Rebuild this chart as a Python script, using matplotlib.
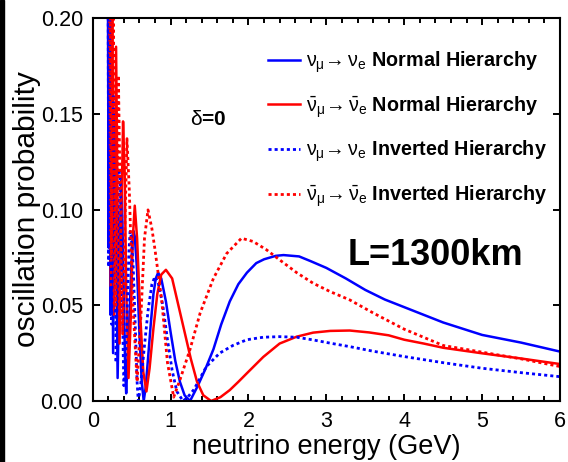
import matplotlib
matplotlib.use("Agg")
import matplotlib.pyplot as plt
from matplotlib.lines import Line2D
from matplotlib.patches import Rectangle

plt.rcParams['font.family'] = ['Liberation Sans', 'DejaVu Sans']
plt.rcParams['mathtext.fontset'] = 'custom'
plt.rcParams['mathtext.rm'] = 'Liberation Sans'
plt.rcParams['mathtext.it'] = 'Liberation Sans'
plt.rcParams['mathtext.bf'] = 'Liberation Sans:bold'

# values (energy in GeV, probability)
nh_nu_E = [0.195, 0.205, 0.215, 0.228, 0.243, 0.262, 0.285, 0.32, 0.342, 0.365,
           0.375, 0.397, 0.418, 0.43, 0.443, 0.475, 0.505, 0.52, 0.54, 0.57,
           0.60, 0.63, 0.655, 0.68, 0.71, 0.745, 0.78, 0.81, 0.84, 0.88,
           0.94, 1.00, 1.06, 1.12, 1.18, 1.25, 1.35, 1.45, 1.55, 1.65,
           1.76, 1.87, 1.98, 2.10, 2.20, 2.35, 2.45, 2.65, 2.80, 3.00,
           3.25, 3.50, 3.75, 4.00, 4.50, 5.00, 5.50, 6.00]
nh_nu_P = [0.22, 0.08, 0.23, 0.045, 0.19, 0.025, 0.15, 0.012, 0.063, 0.115,
           0.108, 0.06, 0.015, 0.004, 0.017, 0.047, 0.080, 0.089, 0.086, 0.068,
           0.035, 0.010, 0.0, 0.007, 0.022, 0.040, 0.056, 0.064, 0.067, 0.064,
           0.052, 0.036, 0.021, 0.010, 0.003, 0.0, 0.008, 0.017, 0.027, 0.040,
           0.052, 0.061, 0.067, 0.072, 0.074, 0.0758, 0.0762, 0.0755, 0.073, 0.0695,
           0.064, 0.058, 0.053, 0.049, 0.041, 0.0345, 0.0305, 0.0258]

nh_nubar_E = [0.215, 0.232, 0.25, 0.275, 0.30, 0.32, 0.345, 0.365, 0.39, 0.41,
              0.43, 0.46, 0.49, 0.515, 0.54, 0.57, 0.61, 0.65, 0.69, 0.73,
              0.78, 0.83, 0.88, 0.94, 1.02, 1.10, 1.18, 1.26, 1.34, 1.42,
              1.52, 1.64, 1.76, 1.87, 1.98, 2.19, 2.40, 2.62, 2.83, 3.05,
              3.30, 3.55, 3.80, 4.00, 4.25, 4.50, 5.00, 5.50, 6.00]
nh_nubar_P = [0.22, 0.06, 0.22, 0.045, 0.185, 0.10, 0.03, 0.09, 0.146, 0.12,
              0.06, 0.012, 0.045, 0.085, 0.102, 0.085, 0.045, 0.015, 0.005, 0.017,
              0.038, 0.056, 0.066, 0.0685, 0.064, 0.050, 0.036, 0.022, 0.010, 0.003,
              0.0, 0.002, 0.0057, 0.010, 0.0145, 0.023, 0.030, 0.0336, 0.0357, 0.0366,
              0.0368, 0.0358, 0.0343, 0.032, 0.030, 0.0278, 0.0249, 0.0222, 0.0193]

ih_nu_E = [0.198, 0.205, 0.222, 0.245, 0.265, 0.30, 0.32, 0.34, 0.355, 0.375,
           0.39, 0.40, 0.42, 0.445, 0.465, 0.48, 0.495, 0.52, 0.55, 0.57,
           0.585, 0.61, 0.66, 0.71, 0.76, 0.80, 0.84, 0.90, 0.96, 1.02,
           1.08, 1.16, 1.22, 1.30, 1.38, 1.46, 1.63, 1.80, 1.98, 2.19,
           2.40, 2.62, 2.83, 3.05, 3.30, 3.60, 4.00, 4.50, 5.00, 5.50, 6.00]
ih_nu_P = [0.22, 0.07, 0.21, 0.04, 0.16, 0.02, 0.07, 0.12, 0.115, 0.07,
           0.03, 0.008, 0.018, 0.05, 0.078, 0.0885, 0.086, 0.07, 0.035, 0.01,
           0.0, 0.006, 0.027, 0.047, 0.061, 0.065, 0.062, 0.05, 0.032, 0.016,
           0.005, 0.0, 0.002, 0.006, 0.012, 0.018, 0.025, 0.029, 0.032, 0.0333,
           0.0336, 0.0333, 0.0319, 0.0302, 0.0284, 0.026, 0.0232, 0.020, 0.0171, 0.0148, 0.0127]

ih_nubar_E = [0.225, 0.24, 0.262, 0.295, 0.33, 0.36, 0.385, 0.41, 0.44, 0.47,
              0.51, 0.57, 0.62, 0.665, 0.71, 0.76, 0.80, 0.885, 0.96, 1.04,
              1.12, 1.25, 1.38, 1.55, 1.72, 1.91, 2.06, 2.23, 2.40, 2.62,
              2.83, 3.05, 3.30, 3.60, 4.00, 4.50, 5.00, 5.50, 6.00]
ih_nubar_P = [0.22, 0.075, 0.22, 0.05, 0.17, 0.085, 0.035, 0.085, 0.137, 0.11,
              0.055, 0.01, 0.045, 0.085, 0.0998, 0.090, 0.079, 0.053, 0.020, 0.002,
              0.011, 0.027, 0.046, 0.064, 0.077, 0.085, 0.0833, 0.079, 0.0737, 0.067,
              0.0615, 0.0571, 0.0528, 0.046, 0.0375, 0.029, 0.0255, 0.022, 0.018]

labels = [r'$\nu_\mu\!\rightarrow\nu_e$ Normal Hierarchy',
          r'$\bar{\nu}_\mu\!\rightarrow\bar{\nu}_e$ Normal Hierarchy',
          r'$\nu_\mu\!\rightarrow\nu_e$ Inverted Hierarchy',
          r'$\bar{\nu}_\mu\!\rightarrow\bar{\nu}_e$ Inverted Hierarchy']

blue = '#0000ff'
red = '#ff0000'
dots = (0, (1.1, 1.1))

fig = plt.figure(figsize=(5.68, 4.62), dpi=100)
ax = fig.add_axes([92.7 / 568, 1 - 401 / 462, 467.3 / 568, 383 / 462])

ax.plot(nh_nu_E, nh_nu_P, color=blue, lw=1.8)
ax.plot(nh_nubar_E, nh_nubar_P, color=red, lw=1.8)
ax.plot(ih_nu_E, ih_nu_P, color=blue, lw=2.0, linestyle=dots)
ax.plot(ih_nubar_E, ih_nubar_P, color=red, lw=2.0, linestyle=dots)

ax.set_xlim(0, 6)
ax.set_ylim(0, 0.2)
ax.set_xticks([0, 1, 2, 3, 4, 5, 6])
ax.set_xticks([i * 0.2 for i in range(31)], minor=True)
ax.set_yticks([0, 0.05, 0.10, 0.15, 0.20])
ax.set_yticklabels(['0.00', '0.05', '0.10', '0.15', '0.20'])
ax.tick_params(which='both', direction='in', top=True, right=True, labelsize=15.5, width=1.4)
ax.tick_params(which='major', length=5, pad=7)
ax.tick_params(which='minor', length=3.5)
for s in ax.spines.values():
    s.set_linewidth(1.5)

ax.set_xlabel('neutrino energy (GeV)', fontsize=19.5, labelpad=2)
ax.set_ylabel('oscillation probability', fontsize=21.5, labelpad=-0.5)

handles = [Line2D([], [], color=blue, lw=1.8),
           Line2D([], [], color=red, lw=1.8),
           Line2D([], [], color=blue, lw=2.0, linestyle=dots),
           Line2D([], [], color=red, lw=2.0, linestyle=dots)]
ax.legend(handles, labels, loc='upper left', bbox_to_anchor=(0.375, 0.918),
          frameon=False, prop={'weight': 'bold', 'size': 14.2},
          handlelength=1.65, handletextpad=0.3, labelspacing=0.97, borderpad=0, borderaxespad=0)

ax.text(1.49, 0.147, r'$\delta$=0', fontsize=15, fontweight='bold', ha='center', va='center')
ax.text(4.4, 0.076, 'L=1300km', fontsize=26, fontweight='bold', ha='center', va='center')

fig.patches.append(Rectangle((0, 0), 4 / 568, 1, transform=fig.transFigure, color='black'))

fig.savefig('out.png', dpi=100)
